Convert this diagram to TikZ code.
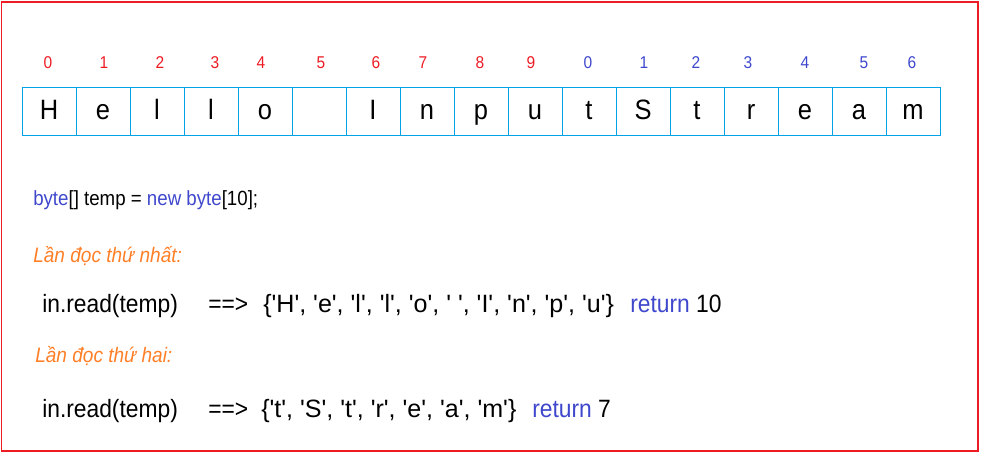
\documentclass[tikz,border=0pt]{standalone}
\usepackage{fontspec}
\newfontfamily\arialfont{Liberation Sans}[FakeStretch=0.91]
\newfontfamily\arialwide{Liberation Sans}
\usetikzlibrary{positioning}

\definecolor{paintred}{RGB}{237,28,36}
\definecolor{paintblue}{RGB}{63,72,204}
\definecolor{paintcyan}{RGB}{0,162,232}
\definecolor{paintorange}{RGB}{255,127,39}

\tikzset{
    cell/.style={draw=paintcyan, line width=0.75pt, minimum width=40.5pt, minimum height=36pt,
        inner sep=0pt, text height=14pt, text depth=2pt, font=\arialfont\fontsize{21}{21}\selectfont},
    idx/.style={inner sep=0pt, font=\arialfont\fontsize{12.8}{12.8}\selectfont},
    code/.style={anchor=base west, inner sep=0pt, font=\arialfont\fontsize{18.8}{18.8}\selectfont},
    chars/.style={code, font=\arialwide\fontsize{18.8}{18.8}\selectfont},
    decl/.style={anchor=base west, inner sep=0pt, font=\arialfont\fontsize{15.4}{15.4}\selectfont},
    note/.style={anchor=base west, inner sep=0pt, text=paintorange,
        font=\arialfont\itshape\fontsize{15.7}{15.7}\selectfont},
}

\begin{document}
\begin{tikzpicture}[x=0.75pt, y=-0.75pt]
    \useasboundingbox (0,0) rectangle (981,454);
    \draw[paintred, line width=0.9pt] (1.5,2) rectangle (978,451);

    % the stream, one byte per cell
    \foreach \ch [count=\i from 0] in {H,e,l,l,o,{},I,n,p,u,t,S,t,r,e,a,m}
    {
        \node[cell] (c\i) at ({49+54*\i}, 111) {\ch};
    }

    % indices over the cells
    \foreach \x/\d/\col [count=\i from 0] in {48/0/paintred, 104/1/paintred, 160/2/paintred,
        215/3/paintred, 261/4/paintred, 321/5/paintred, 376/6/paintred, 423/7/paintred,
        480/8/paintred, 531/9/paintred, 588/0/paintblue, 644/1/paintblue, 696/2/paintblue,
        748/3/paintblue, 805/4/paintblue, 864/5/paintblue, 912/6/paintblue}
    {
        \node[idx, text=\col] (i\i) at (\x, 63) {\d};
    }

    \node[decl] (buf) at (33, 205)
        {\textcolor{paintblue}{byte}[] temp = \textcolor{paintblue}{new byte}[10];};

    \node[note] (first) at (33, 262.5) {Lần đọc thứ nhất:};
    \node[code] (call1) at (42, 312) {in.read(temp)};
    \node[code] (arrow1) at (208, 312) {==>};
    \node[chars] (set1) at (263, 312) {\{'H', 'e', 'l', 'l', 'o', ' ', 'I', 'n', 'p', 'u'\}};
    \node[code] (ret1) at (630, 312) {\textcolor{paintblue}{return} 10};

    \node[note] (second) at (35, 362.5) {Lần đọc thứ hai:};
    \node[code] (call2) at (42, 417) {in.read(temp)};
    \node[code] (arrow2) at (208, 417) {==>};
    \node[chars] (set2) at (261, 417) {\{'t', 'S', 't', 'r', 'e', 'a', 'm'\}};
    \node[code] (ret2) at (532, 417) {\textcolor{paintblue}{return} 7};
\end{tikzpicture}
\end{document}
